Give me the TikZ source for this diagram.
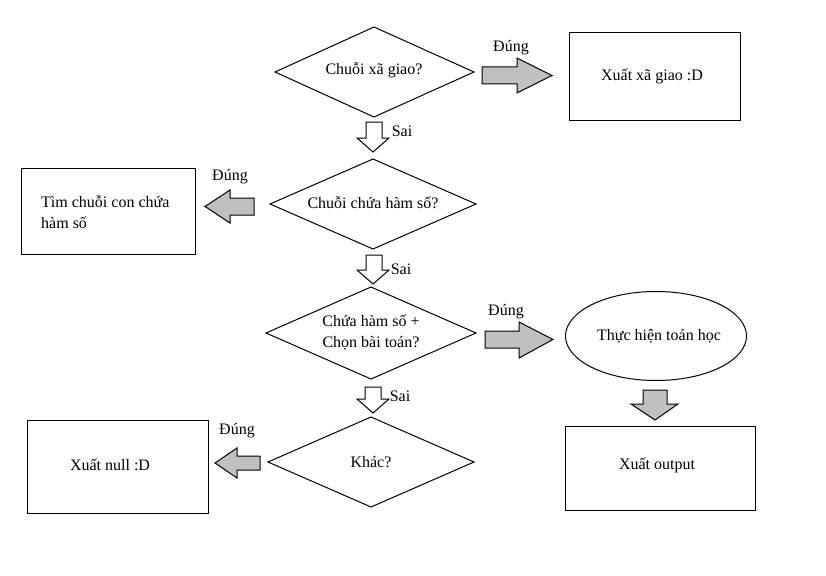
\documentclass[tikz,border=0pt]{standalone}
\usepackage{fontspec}
\setmainfont{Liberation Serif}
\definecolor{arrgray}{HTML}{C0C0C0}
\tikzset{
  every node/.style={font=\fontsize{16}{21}\selectfont, inner sep=0pt},
  shapeline/.style={draw, line width=1pt, line join=miter},
  procbox/.style={draw, line width=1pt, rectangle},
  lbl/.style={font=\fontsize{16}{19}\selectfont},
  grayarrow/.style={draw, line width=1pt, fill=arrgray, line join=miter},
  whitearrow/.style={draw, line width=1pt, fill=white, line join=miter},
}
\begin{document}
\begin{tikzpicture}[x=1pt,y=-1pt]
\useasboundingbox[fill=white] (0,0) rectangle (826,575);

% decisions
\draw[shapeline] (275,72) -- (374,27) -- (474,72) -- (374,117) -- cycle;
\node[align=center] (d1) at (374,70) {Chuỗi xã giao?};
\draw[shapeline] (270,204) -- (373,159) -- (476,204) -- (373,249) -- cycle;
\node[align=center] (d2) at (373,203) {Chuỗi chứa hàm số?};
\draw[shapeline] (266,333) -- (371,287) -- (476,333) -- (371,379) -- cycle;
\node[align=center] (d3) at (371,333) {Chứa hàm số +\\Chọn bài toán?};
\draw[shapeline] (268,462) -- (371,417) -- (474,462) -- (371,507) -- cycle;
\node[align=center] (d4) at (371,462) {Khác?};

% boxes
\node[procbox, minimum width=171pt, minimum height=87pt] (b1) at (654.5,76.5) {};
\node (t1) at (652,76) {Xuất xã giao :D};
\node[procbox, minimum width=174pt, minimum height=86pt] (b2) at (108,211) {};
\node[align=left, anchor=west] (t2) at (41,212) {Tìm chuỗi con chứa\\hàm số};
\node[procbox, minimum width=181pt, minimum height=93pt] (b4) at (117.5,466.5) {};
\node (t4) at (110,465) {Xuất null :D};
\draw[line width=1pt] (656,336) ellipse [x radius=90.5pt, y radius=44.5pt];
\node (te) at (659,336) {Thực hiện toán học};
\node[procbox, minimum width=190pt, minimum height=84pt] (b5) at (660,468) {};
\node (t5) at (657,465) {Xuất output};

% block arrows
\draw[grayarrow] (482,67) -- (517,67) -- (517,58) -- (552,75.5) -- (517,93) -- (517,84) -- (482,84) -- cycle;
\draw[grayarrow] (254,198) -- (230,198) -- (230,190) -- (205,206.5) -- (230,223) -- (230,215) -- (254,215) -- cycle;
\draw[grayarrow] (485,331) -- (519,331) -- (519,322) -- (553,339.5) -- (519,358) -- (519,348) -- (485,348) -- cycle;
\draw[grayarrow] (260,456) -- (237,456) -- (237,448) -- (215,463) -- (237,478) -- (237,470) -- (260,470) -- cycle;
\draw[grayarrow] (643,390) -- (667,390) -- (667,404) -- (678,404) -- (655,420) -- (631,404) -- (643,404) -- cycle;

\draw[whitearrow] (366,122) -- (382,122) -- (382,138) -- (389,138) -- (373,152) -- (357,138) -- (366,138) -- cycle;
\draw[whitearrow] (366,255) -- (382,255) -- (382,270) -- (389,270) -- (373,284) -- (357,270) -- (366,270) -- cycle;
\draw[whitearrow] (365,387) -- (381,387) -- (381,399) -- (389,399) -- (373,413) -- (357,399) -- (365,399) -- cycle;

% labels
\node[lbl] (l1) at (511,48) {Đúng};
\node[lbl] (s1) at (402,131) {Sai};
\node[lbl] (l2) at (230,177) {Đúng};
\node[lbl] (s2) at (401,269) {Sai};
\node[lbl] (l3) at (506,312) {Đúng};
\node[lbl] (s3) at (400,396) {Sai};
\node[lbl] (l4) at (237,431) {Đúng};
\end{tikzpicture}
\end{document}
